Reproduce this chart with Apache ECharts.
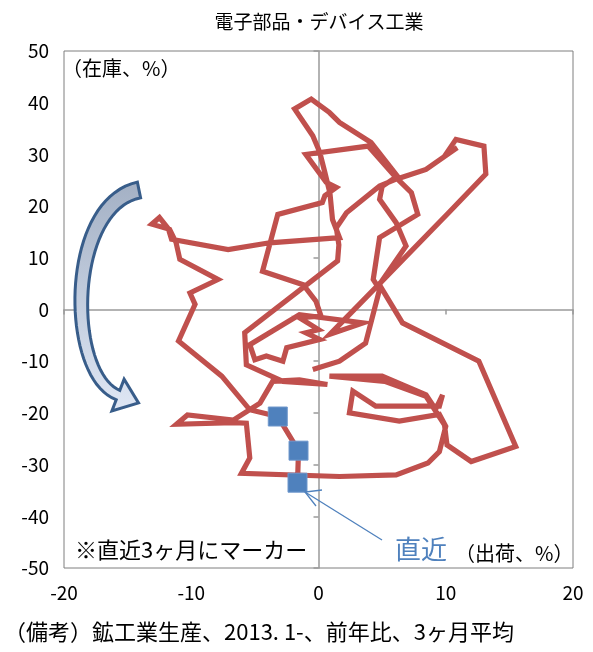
<!DOCTYPE html>
<html><head><meta charset="utf-8">
<script src="https://cdn.jsdelivr.net/npm/echarts/dist/echarts.min.js"></script>
<style>html,body{margin:0;padding:0;background:#fff}#c{width:593px;height:652px}</style>
</head><body><div id="c"></div>
<script>
// 出荷 (x, 前年比%) and 在庫 (y, 前年比%), 2013.1- 3ヶ月平均
const shipment = [
 -0.45,1.65,3.7,4.8,4.3,4.8,7.8,7.3,6.1,3.9,-1.0,0.6,1.4,0.5,0.3,-3.2,-4.4,-1.2,-0.2,0.2,-1.5,0.0,-1.0,0.1,-2.5,-2.8,-4.1,-5.0,-5.4,
 -1.5,3.5,0.9,4.8,10.3,13.15,13.0,10.8,10.0,10.9,8.45,6.1,4.8,2.2,1.4,1.6,1.5,-5.8,-5.67,-2.8,0.7,-1.5,-3.6,-4.6,-6.7,-10.3,-11.16,-6.7,-5.67,-5.4,-6.06,
 1.65,6.1,8.6,9.5,10.0,9.5,6.35,2.43,2.7,4.5,9.5,9.75,9.2,8.45,5.0,0.86,5.2,8.45,9.9,10.1,12.0,15.5,12.6,6.6,4.78,6.88,6.1,4.8,5.0,6.2,
 4.13,1.65,0.86,-0.57,-1.88,-0.45,0.1,0.5,0.9,1.1,1.65,-3.84,-7.1,-11.55,-11.8,-12.5,-13.1,-11.7,-11.2,-10.9,-7.9,-10.1,-9.7,-11.0,-7.6,-5.4,
 -3.2,-1.57,-1.65
];
const inventory = [
 -11.6,-10.0,-6.5,3.9,5.8,13.9,18.4,22.6,25.5,31.6,30.0,24.6,23.6,22.0,20.7,18.4,7.4,4.8,1.6,-1.3,-1.6,-3.9,-4.5,-5.8,-7.4,-10.0,-9.0,-9.7,-6.8,
 -1.0,-2.6,-4.8,5.0,18.9,26.2,31.6,32.9,30.0,31.3,27.1,25.2,23.9,18.7,15.8,12.5,9.4,-4.5,-10.7,-13.9,-14.5,-13.6,-13.9,-18.1,-21.4,-20.4,-22.2,-21.9,-22.0,-28.7,-31.7,
 -32.3,-32.0,-29.7,-27.5,-22.6,-20.3,-21.6,-20.0,-15.8,-18.7,-18.7,-16.5,-19.3,-16.5,-12.9,-12.9,-13.9,-16.8,-22.3,-26.2,-29.4,-26.5,-10.0,-2.6,4.8,12.3,16.8,21.3,23.8,25.8,
 32.3,36.2,38.1,40.7,38.8,33.6,30.4,26.5,22.5,17.4,13.9,12.9,11.6,13.6,15.6,17.8,16.5,15.5,13.0,9.7,5.8,3.2,1.0,-6.1,-12.9,-19.4,
 -20.7,-27.3,-33.5
];
const recentCount = 3;
const xRange = [-20, 20, 10];
const yRange = [-50, 50, 10];

const FONT = '"Noto Sans CJK JP","Noto Sans",sans-serif';
const chart = echarts.init(document.getElementById('c'), null, {renderer:'canvas'});
const pts = shipment.map((x,i)=>[x, inventory[i]]);
const recent = pts.slice(pts.length - recentCount);

// decorative curved arrow (pixel geometry)
function arrowShape(){
  const P=[[139,190],[66,205],[66,375],[118,395]];
  const N=40, outer=[], inner=[];
  for(let i=0;i<=N;i++){
    const t=i/N, u=1-t;
    const x=u*u*u*P[0][0]+3*u*u*t*P[1][0]+3*u*t*t*P[2][0]+t*t*t*P[3][0];
    const y=u*u*u*P[0][1]+3*u*u*t*P[1][1]+3*u*t*t*P[2][1]+t*t*t*P[3][1];
    const dx=3*u*u*(P[1][0]-P[0][0])+6*u*t*(P[2][0]-P[1][0])+3*t*t*(P[3][0]-P[2][0]);
    const dy=3*u*u*(P[1][1]-P[0][1])+6*u*t*(P[2][1]-P[1][1])+3*t*t*(P[3][1]-P[2][1]);
    const L=Math.hypot(dx,dy), nx=-dy/L, ny=dx/L;
    const w=(16-6*t)/2;
    outer.push([x-nx*w,y-ny*w]); inner.push([x+nx*w,y+ny*w]);
  }
  const dx=P[3][0]-P[2][0], dy=P[3][1]-P[2][1], L=Math.hypot(dx,dy);
  const ux=dx/L, uy=dy/L, nx=-uy, ny=ux;
  const e=P[3];
  const tip=[e[0]+ux*22,e[1]+uy*22];
  const c1=[e[0]-nx*17,e[1]-ny*17], c2=[e[0]+nx*17,e[1]+ny*17];
  return outer.concat([c1,tip,c2]).concat(inner.reverse());
}
const arrowPts = arrowShape();

chart.setOption({
 animation:false,
 grid:{left:64,right:20,top:51,bottom:84,show:true,borderColor:'#7f7f7f',borderWidth:1,backgroundColor:'transparent'},
 xAxis:[
  {type:'value',min:xRange[0],max:xRange[1],interval:xRange[2],position:'bottom',
   axisLine:{show:false,onZero:false},axisTick:{show:false},splitLine:{show:false},
   axisLabel:{color:'#000',fontSize:19,margin:15,fontFamily:FONT}},
  {type:'value',min:xRange[0],max:xRange[1],interval:xRange[2],position:'top',
   axisLine:{show:true,onZero:true,onZeroAxisIndex:0,lineStyle:{color:'#9a9a9a',width:1.5}},
   axisTick:{show:true,inside:true,length:5,lineStyle:{color:'#9a9a9a',width:1.5}},
   axisLabel:{show:false},splitLine:{show:false}}
 ],
 yAxis:[
  {type:'value',min:yRange[0],max:yRange[1],interval:yRange[2],position:'left',
   axisLine:{show:false,onZero:false},axisTick:{show:false},splitLine:{show:false},
   axisLabel:{color:'#000',fontSize:19,margin:15,fontFamily:FONT}},
  {type:'value',min:yRange[0],max:yRange[1],interval:yRange[2],position:'right',
   axisLine:{show:true,onZero:true,onZeroAxisIndex:0,lineStyle:{color:'#9a9a9a',width:1.5}},
   axisTick:{show:true,inside:true,length:5,lineStyle:{color:'#9a9a9a',width:1.5}},
   axisLabel:{show:false},splitLine:{show:false}}
 ],
 series:[
  {type:'line',xAxisIndex:0,yAxisIndex:0,data:pts,symbol:'none',z:3,
   lineStyle:{color:'#c0504d',width:5.2,join:'miter',miterLimit:6}},
  {type:'scatter',xAxisIndex:0,yAxisIndex:0,data:recent,symbol:'rect',symbolSize:19,z:4,
   itemStyle:{color:'#4f81bd',opacity:1,borderColor:'#6f97cc',borderWidth:1}}
 ],
 graphic:[
  {type:'text',x:319,y:22,style:{text:'電子部品・デバイス工業',fontSize:19,fontFamily:FONT,fill:'#000',textAlign:'center',textVerticalAlign:'middle'}},
  {type:'text',x:62,y:68,style:{text:'（在庫、%）',fontSize:20,fontFamily:FONT,fill:'#000',textVerticalAlign:'middle'}},
  {type:'text',x:75,y:550,style:{text:'※直近3ヶ月にマーカー',fontSize:22,fontFamily:FONT,fill:'#000',textVerticalAlign:'middle'}},
  {type:'text',x:395,y:549,style:{text:'直近',fontSize:26,fontFamily:FONT,fill:'#4f81bd',textVerticalAlign:'middle'}},
  {type:'text',x:455,y:553,style:{text:'（出荷、%）',fontSize:20,fontFamily:FONT,fill:'#000',textVerticalAlign:'middle'}},
  {type:'text',x:4,y:632,style:{text:'（備考）鉱工業生産、2013. 1-、前年比、3ヶ月平均',fontSize:22,fontFamily:FONT,fill:'#000',textVerticalAlign:'middle'}},
  {type:'line',shape:{x1:382,y1:540,x2:305,y2:492},style:{stroke:'#4f81bd',lineWidth:1.3},z:10},
  {type:'polyline',shape:{points:[[322,490],[305,492],[316,506]]},style:{stroke:'#4f81bd',lineWidth:1.3,fill:null},z:10},
  {type:'polygon',shape:{points:arrowPts},z:10,
   style:{fill:new echarts.graphic.LinearGradient(0,0,0,1,[{offset:0,color:'#a3b0c4'},{offset:1,color:'#dfe7f5'}]),stroke:'#385d8a',lineWidth:3,lineJoin:'miter'}}
 ]
});
</script></body></html>
